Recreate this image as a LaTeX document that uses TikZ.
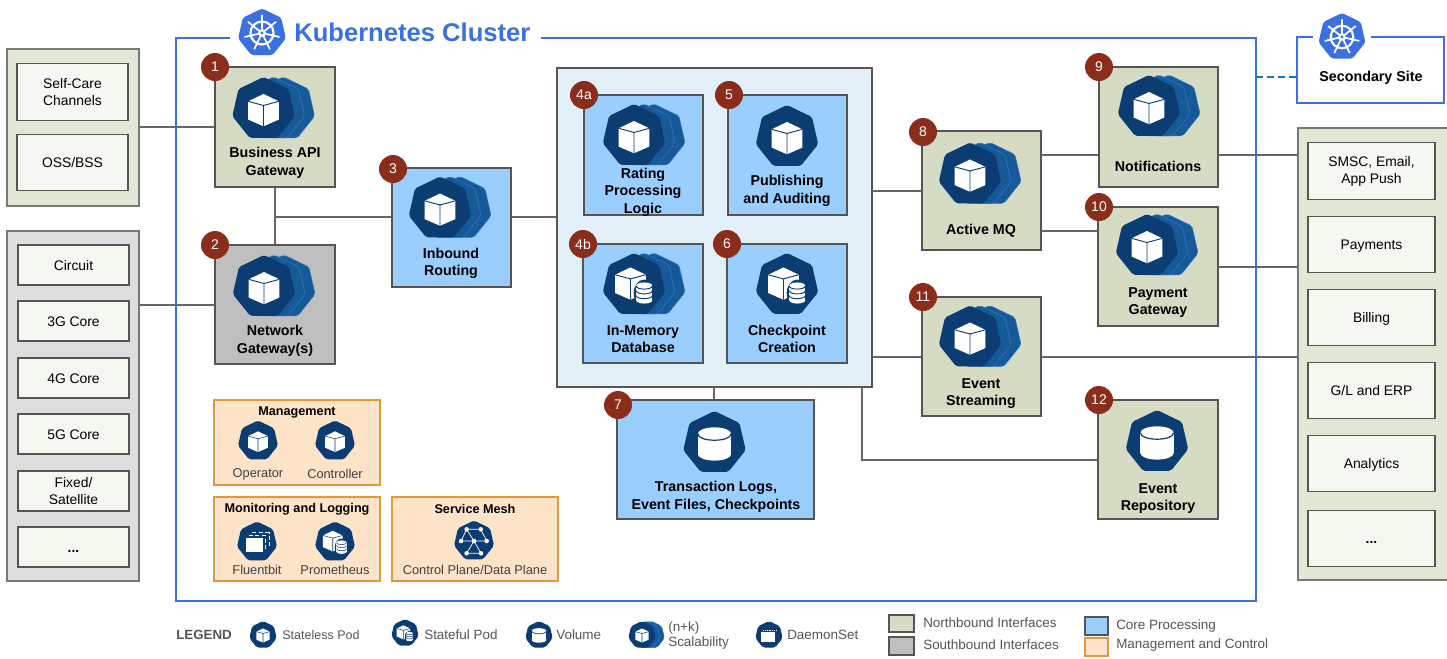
\documentclass[tikz,border=0pt]{standalone}
\usepackage{fontspec}
\setmainfont{Liberation Sans}
\definecolor{navy}{HTML}{0B3C72}
\definecolor{layerb}{HTML}{155A96}
\definecolor{layerl}{HTML}{2F6FC4}
\definecolor{kblue}{HTML}{3A70E0}
\definecolor{dashblue}{HTML}{1A74C4}
\definecolor{nbfill}{HTML}{D5DCC3}
\definecolor{sbfill}{HTML}{BFBFBF}
\definecolor{corefill}{HTML}{99CEFF}
\definecolor{mgfill}{HTML}{FDE3C8}
\definecolor{mgline}{HTML}{E09A3C}
\definecolor{panelfill}{HTML}{E3F0F8}
\definecolor{ngroup}{HTML}{E1E8D6}
\definecolor{sgroup}{HTML}{DEDEDE}
\definecolor{lineg}{HTML}{555555}
\definecolor{connc}{HTML}{666666}
\definecolor{badgec}{HTML}{8A2E1B}
\definecolor{innerw}{HTML}{F5F8F0}
\definecolor{leg}{HTML}{555555}
\newcommand\heptpath{(-90:1) -- (-38.57:1) -- (12.86:1) -- (64.29:1) -- (115.71:1) -- (167.14:1) -- (218.57:1) -- cycle}
\newcommand\bx[6]{\node[#2,minimum width={(#5-#3)*0.75pt},minimum height={(#6-#4)*0.75pt}] (#1) at ({(#3+#5)/2},{(#4+#6)/2}) {};}
\newcommand\iHept{\fill[navy,rounded corners=1.5pt] \heptpath;}
\newcommand\iLayers{%
  \fill[layerb,draw=layerl,line width=0.5pt,rounded corners=1.5pt,shift={(0.62,0)}] \heptpath;
  \fill[layerb,draw=layerl,line width=0.5pt,rounded corners=1.5pt,shift={(0.31,0)}] \heptpath;}
\newcommand\iCube{%
  \fill[white] (0,-0.47) -- (0.48,-0.24) -- (0.48,0.33) -- (0,0.54) -- (-0.48,0.33) -- (-0.48,-0.24) -- cycle;
  \draw[navy,gapw] (-0.48,-0.24) -- (0,-0.11) -- (0.48,-0.24) (0,-0.11) -- (0,0.54);}
\newcommand\iCubeUp{\begin{scope}[shift={(-0.11,-0.08)}]\iCube\end{scope}}
\newcommand\iMiniCyl{%
  \fill[navy] (0.32,0.25) ellipse[x radius=0.33,y radius=0.42];
  \fill[white] (0.32,0.02) ellipse[x radius=0.25,y radius=0.1];
  \fill[white] (0.07,0.02) rectangle (0.57,0.48);
  \fill[white] (0.32,0.48) ellipse[x radius=0.25,y radius=0.1];
  \draw[navy,gapw] (0.07,0.03) .. controls (0.07,0.16) and (0.57,0.16) .. (0.57,0.03);
  \draw[navy,gapw] (0.07,0.18) .. controls (0.07,0.31) and (0.57,0.31) .. (0.57,0.18);
  \draw[navy,gapw] (0.07,0.33) .. controls (0.07,0.46) and (0.57,0.46) .. (0.57,0.33);}
\tikzset{
  x=0.75pt,y=-0.75pt,
  gapw/.style={line width=0.7pt},
  small/.style={gapw/.style={line width=0.4pt}},
  boxbase/.style={draw=lineg,line width=0.85pt,inner sep=0pt,rectangle},
  northbox/.style={boxbase,fill=nbfill},
  southbox/.style={boxbase,fill=sbfill},
  corebox/.style={boxbase,fill=corefill},
  panelbox/.style={boxbase,fill=panelfill},
  mgbox/.style={draw=mgline,line width=1pt,fill=mgfill,inner sep=0pt,rectangle},
  ngroupbox/.style={draw=lineg!80,line width=0.8pt,fill=ngroup,inner sep=0pt,rectangle},
  sgroupbox/.style={draw=lineg!80,line width=0.8pt,fill=sgroup,inner sep=0pt,rectangle},
  innerbox/.style={draw=lineg,line width=0.8pt,fill=innerw,inner sep=0pt,rectangle},
  conn/.style={draw=connc,line width=0.9pt},
  badge/.style={circle,fill=badgec,text=white,inner sep=0pt,minimum size=21pt,font=\fontsize{10.5}{12}\selectfont},
  lab/.style={align=center,inner sep=0pt,font=\bfseries\fontsize{10.7}{13.1}\selectfont},
  ext/.style={align=center,inner sep=0pt,font=\fontsize{10.4}{12.9}\selectfont},
  one/.style={text height=7.5pt,text depth=0pt},
  sub/.style={align=center,inner sep=0pt,font=\fontsize{9.6}{12}\selectfont,text=black!75},
  subt/.style={align=center,inner sep=0pt,font=\bfseries\fontsize{9.5}{12}\selectfont},
  legt/.style={anchor=west,inner sep=0pt,text=leg,font=\fontsize{10.1}{11.8}\selectfont,align=left},
  pics/stateless/.style={code={\iHept\iCube}},
  pics/scaled/.style={code={\iLayers\iHept\iCube}},
  pics/stateful/.style={code={\iHept\iCubeUp\iMiniCyl}},
  pics/scaledful/.style={code={\iLayers\iHept\iCubeUp\iMiniCyl}},
  pics/volume/.style={code={
    \iHept
    \fill[white] (0,-0.29) ellipse[x radius=0.52,y radius=0.2];
    \fill[white] (-0.52,-0.29) rectangle (0.52,0.35);
    \fill[white] (0,0.35) ellipse[x radius=0.52,y radius=0.2];
    \draw[navy,volw] (-0.52,-0.29) .. controls (-0.52,-0.02) and (0.52,-0.02) .. (0.52,-0.29);
  }},
  volw/.style={line width=0.9pt},
  pics/daemon/.style={code={
    \iHept
    \fill[white] (-0.55,-0.18) rectangle (0.45,0.48);
    \draw[white,line width=0.3pt,densely dotted] (-0.4,-0.36) -- (0.55,-0.36);
  }},
  pics/fluent/.style={code={
    \iHept
    \fill[white] (-0.55,-0.18) rectangle (0.28,0.5);
    \draw[white,line width=0.4pt,densely dashed] (-0.4,-0.32) -- (0.42,-0.32) -- (0.42,0.36);
    \draw[white,line width=0.4pt,densely dashed] (-0.25,-0.46) -- (0.58,-0.46) -- (0.58,0.22);
  }},
  pics/mesh/.style={code={
    \iHept
    \draw[white,line width=0.55pt] (-0.36,-0.57) -- (0.33,-0.57) -- (0.62,0) -- (0,0) -- (-0.36,-0.57) -- (-0.63,0) -- (0,0) -- (-0.36,0.6) -- (0.34,0.6) -- (0,0);
    \foreach \p in {(-0.36,-0.57),(0.33,-0.57),(0.62,0),(0,0),(-0.63,0),(-0.36,0.6),(0.34,0.6)}
      \fill[white] \p circle[radius=0.11];
  }},
  pics/wheel/.style={code={
    \fill[kblue,rounded corners=2pt] \heptpath;
    \draw[white,line width=1.6pt] (0,0) circle[radius=0.47];
    \foreach \a in {-90,-38.57,12.86,64.29,115.71,167.14,218.57}{
      \draw[white,line width=1.3pt,line cap=round] (\a:0.14) -- (\a:0.72);
    }
    \fill[white] (0,0) circle[radius=0.16];
    \fill[kblue] (0,0) circle[radius=0.07];
  }},
}
\begin{document}
\begin{tikzpicture}
\useasboundingbox (0,0) rectangle (1447,658);
% external groups
\bx{ng}{ngroupbox}{7}{49}{139}{206}
\bx{sg}{sgroupbox}{7}{231}{139}{581}
\bx{rg}{ngroupbox}{1298}{128}{1452}{580}
% cluster
\draw[kblue,line width=1.5pt] (230,38) -- (176,38) -- (176,601) -- (1256,601) -- (1256,38) -- (541,38);
\pic[scale=24.5] at (262,33) {wheel};
\node[inner sep=0pt,anchor=west,text=kblue,font=\bfseries\fontsize{19.2}{24}\selectfont] (ktitle) at (294,32) {Kubernetes Cluster};
% secondary site
\coordinate (ss1) at (1313,37);
\coordinate (ss2) at (1371,37);
\coordinate (sscor) at (1297,77);
\coordinate (clusterE) at (1256,77);
\draw[kblue,line width=1.5pt] (ss1) -- (1297,37) -- (1297,103) -- (1444,103) -- (1444,37) -- (ss2);
\draw[dashblue,line width=1.6pt,dash pattern=on 5.2pt off 3pt] (clusterE) -- (sscor);
\pic[scale=24] at (1342,37) {wheel};
\node[lab] (sstext) at (1371,78) {Secondary Site};
% boxes
\bx{b1}{northbox}{215}{67}{335}{187}
\bx{b2}{southbox}{215}{245}{335}{364}
\bx{b3}{corebox}{392}{168}{511}{287}
\bx{panel}{panelbox}{557}{68}{872}{387}
\bx{b4a}{corebox}{584}{95}{703}{215}
\bx{b5}{corebox}{728}{95}{847}{215}
\bx{b4b}{corebox}{583}{244}{703}{363}
\bx{b6}{corebox}{727}{244}{847}{363}
\bx{b7}{corebox}{617}{400}{814}{519}
\bx{b8}{northbox}{922}{131}{1041}{250}
\bx{b9}{northbox}{1099}{67}{1218}{187}
\bx{b10}{northbox}{1098}{207}{1218}{326}
\bx{b11}{northbox}{922}{297}{1041}{416}
\bx{b12}{northbox}{1098}{400}{1218}{519}
% connectors
\coordinate (j1) at (275,217);
\coordinate (p8) at (872,191);
\coordinate (p11) at (872,357);
\coordinate (p7) at (714,387);
\coordinate (p12) at (862,387);
\coordinate (e12) at (862,460);
\coordinate (w2) at (215,305);
\coordinate (t8a) at (1041,155);
\coordinate (t8b) at (1041,231);
\coordinate (t9) at (1218,155);
\coordinate (t10) at (1218,267);
\draw[conn] (ng.east |- b1.west) -- (b1.west);
\draw[conn] (sg.east |- w2) -- (w2);
\draw[conn] (b1.south -| j1) -- (b2.north -| j1);
\draw[conn] (j1) -- (b3.west |- j1);
\draw[conn] (b3.east |- j1) -- (panel.west |- j1);
\draw[conn] (p8) -- (b8.west |- p8);
\draw[conn] (p11) -- (b11.west |- p11);
\draw[conn] (t8a) -- (b9.west |- t8a);
\draw[conn] (t8b) -- (b10.west |- t8b);
\draw[conn] (t9) -- (rg.west |- t9);
\draw[conn] (t10) -- (rg.west |- t10);
\draw[conn] (b11.east |- p11) -- (rg.west |- p11);
\draw[conn] (p7) -- (p7 |- b7.north);
\draw[conn] (p12) -- (e12) -- (b12.west |- e12);
% external inner
\tikzset{in1/.style={innerbox,ext,minimum width=83.25pt,minimum height=42.5pt},
         in2/.style={innerbox,ext,minimum width=83.25pt,minimum height=30pt},
         in3/.style={innerbox,ext,minimum width=95.25pt,minimum height=42.5pt}}
\node[in1] (sc) at (72.5,92) {Self-Care\\Channels};
\node[in1,one] (oss) at (72.5,162.5) {OSS/BSS};
\node[in2,one] (circ) at (73.5,265) {Circuit};
\node[in2,one] (g3) at (73.5,321) {3G Core};
\node[in2,one] (g4) at (73.5,378) {4G Core};
\node[in2,one] (g5) at (73.5,434) {5G Core};
\node[in2] (fx) at (73.5,491) {Fixed/\\Satellite};
\node[in2,font=\bfseries\fontsize{10.4}{12.9}\selectfont,one] (dots1) at (73.5,547) {...};
\node[in3] (smsc) at (1371.5,171) {};
\node[ext] (smsct) at (1371.5,171.5) {SMSC, Email,\\App Push};
\node[in3,one] (pay) at (1371.5,244.5) {Payments};
\node[in3,one] (bill) at (1371.5,317.5) {Billing};
\node[in3,one] (gl) at (1371.5,390.5) {G/L and ERP};
\node[in3,one] (ana) at (1371.5,463.5) {Analytics};
\node[in3,font=\bfseries\fontsize{10.4}{12.9}\selectfont,one] (dots2) at (1371.5,538.5) {...};
% icons
\pic[scale=32] at (263.5,109) {scaled};
\pic[scale=32] at (264,287) {scaled};
\pic[scale=32] at (440,208.5) {scaled};
\pic[scale=32] at (634,136) {scaled};
\pic[scale=32] at (787,137) {stateless};
\pic[scale=32] at (634,285) {scaledful};
\pic[scale=32] at (787,285) {stateful};
\pic[scale=32] at (714.5,443) {volume};
\pic[scale=32] at (970,174.5) {scaled};
\pic[scale=32] at (1149,107) {scaled};
\pic[scale=32] at (1147,246) {scaled};
\pic[scale=32] at (970,337.5) {scaled};
\pic[scale=32] at (1157,442) {volume};
% labels
\node[lab] (l1) at (275,163) {Business API\\Gateway};
\node[lab] (l2) at (275,341) {Network\\Gateway(s)};
\node[lab] (l3) at (451,263.5) {Inbound\\Routing};
\node[lab] (l4a) at (643,192) {Rating\\Processing\\Logic};
\node[lab] (l5) at (787,191) {Publishing\\and Auditing};
\node[lab] (l4b) at (643,339) {In-Memory\\Database};
\node[lab] (l6) at (787,339) {Checkpoint\\Creation};
\node[lab] (l7) at (716,497) {Transaction Logs,\\Event Files, Checkpoints};
\node[lab] (l8) at (981,231) {Active MQ};
\node[lab] (l9) at (1158,166) {Notifications};
\node[lab] (l10) at (1158,302.5) {Payment\\Gateway};
\node[lab] (l11) at (981,393.5) {Event\\Streaming};
\node[lab] (l12) at (1158,498.5) {Event\\Repository};
% badges
\node[badge] (n1) at (215,67) {1};
\node[badge] (n2) at (215,245) {2};
\node[badge] (n3) at (393,169) {3};
\node[badge] (n4a) at (584,95) {4a};
\node[badge] (n5) at (729,95) {5};
\node[badge] (n4b) at (583,244) {4b};
\node[badge] (n6) at (727,244) {6};
\node[badge] (n7) at (618,405) {7};
\node[badge] (n8) at (923,132) {8};
\node[badge] (n9) at (1099,67) {9};
\node[badge] (n10) at (1099,207) {10};
\node[badge] (n11) at (923,297) {11};
\node[badge] (n12) at (1099,400) {12};
% management
\bx{mg}{mgbox}{214}{400}{380}{485}
\bx{mon}{mgbox}{214}{497}{380}{581}
\bx{sm}{mgbox}{392}{497}{558}{581}
\node[subt] (mgt) at (297,412) {Management};
\node[subt] (mont) at (297,509) {Monitoring and Logging};
\node[subt] (smt) at (475,509) {Service Mesh};
\pic[scale=20.5,small] at (258,441) {stateless};
\pic[scale=20.5,small] at (335,441) {stateless};
\pic[scale=20.5,small] at (257,542) {fluent};
\pic[scale=20.5,small] at (335,542) {stateful};
\pic[scale=20.5,small] at (474,541) {mesh};
\node[sub] (lop) at (258,474) {Operator};
\node[sub] (lco) at (335,474) {Controller};
\node[sub] (lfl) at (257,570) {Fluentbit};
\node[sub] (lpr) at (335,570) {Prometheus};
\node[sub] (lcp) at (475,570) {Control Plane/Data Plane};
% legend
\node[legt,font=\bfseries\fontsize{10}{11}\selectfont] (lg) at (176,635) {LEGEND};
\pic[scale=14,small] at (263,635) {stateless};
\node[legt,font=\fontsize{9.4}{11.5}\selectfont] (lg1) at (282,635) {Stateless Pod};
\pic[scale=14,small] at (405,633) {stateful};
\node[legt] (lg2) at (424,635) {Stateful Pod};
\pic[scale=14,small,volw/.style={line width=0.5pt}] at (539,635) {volume};
\node[legt] (lg3) at (556,635) {Volume};
\pic[scale=14,small] at (642,635) {scaled};
\node[legt] (lg4) at (668,635.5) {(n+k)\\Scalability};
\pic[scale=14,small] at (769,635) {daemon};
\node[legt] (lg5) at (787,635) {DaemonSet};
\bx{s1}{boxbase,line width=0.8pt,fill=nbfill}{889}{615}{914}{632}
\bx{s2}{boxbase,line width=0.8pt,fill=sbfill}{889}{637}{914}{655}
\node[legt] (lg6) at (923,623) {Northbound Interfaces};
\node[legt] (lg7) at (923,645) {Southbound Interfaces};
\bx{s3}{boxbase,line width=0.8pt,fill=corefill}{1085}{617}{1108}{635}
\bx{s4}{mgbox,line width=0.8pt}{1085}{638}{1108}{656}
\node[legt] (lg8) at (1116,626) {Core Processing};
\node[legt] (lg9) at (1116,645) {Management and Control};
\end{tikzpicture}
\end{document}
